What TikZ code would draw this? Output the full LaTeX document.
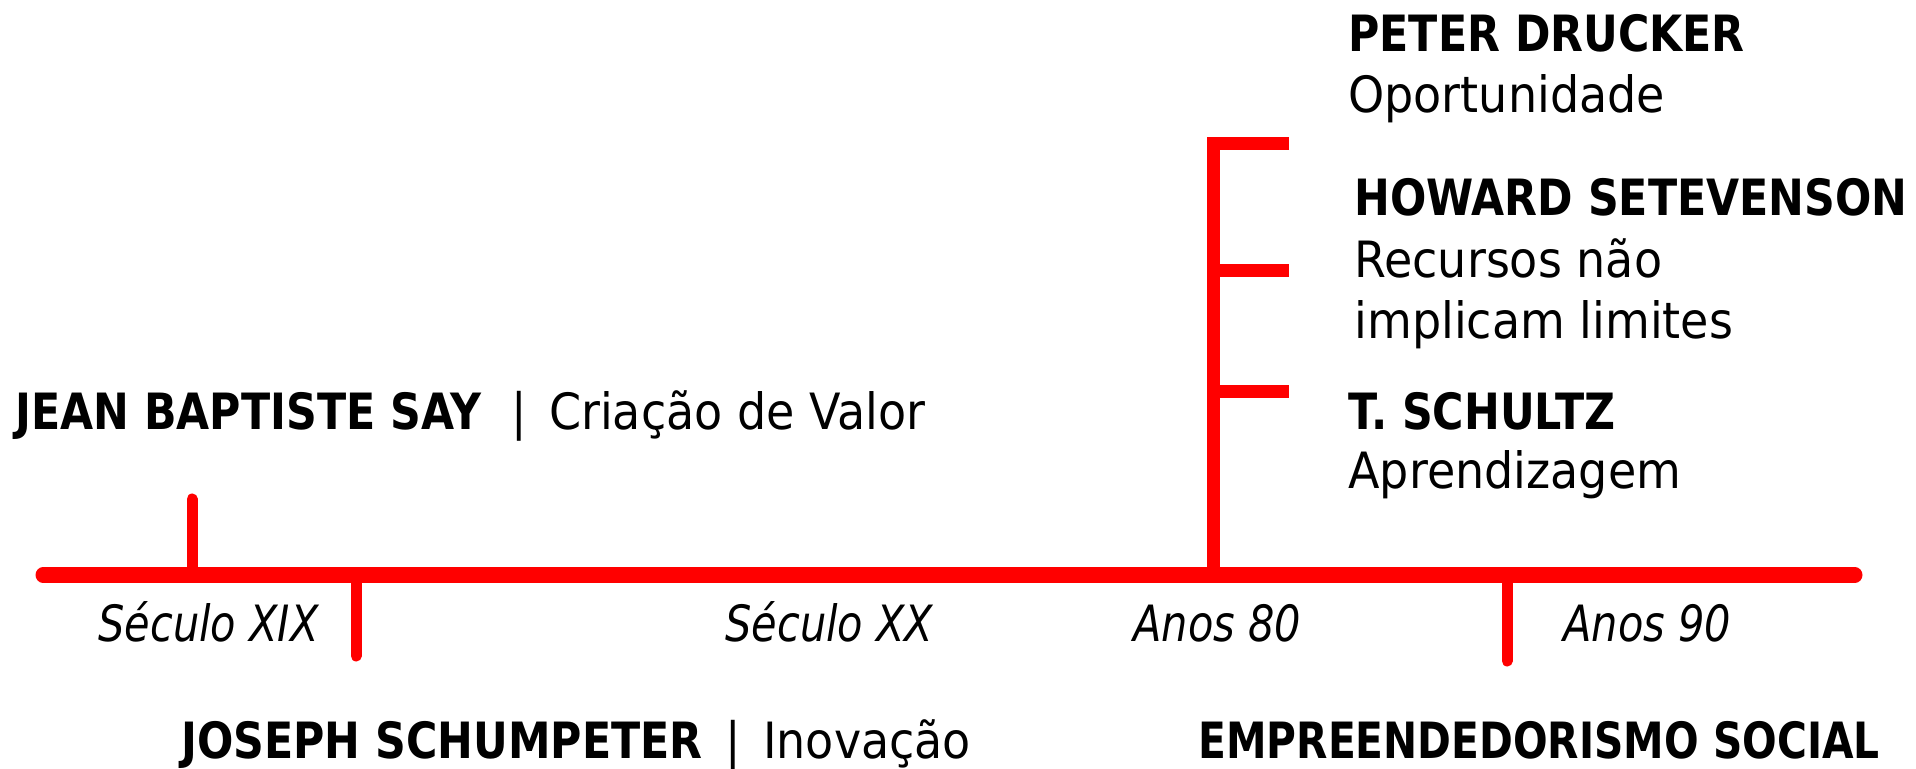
\documentclass[tikz,border=0pt]{standalone}
\usepackage{fontspec}
\setmainfont{DejaVu Sans}
\newfontfamily\namefont[FakeStretch=0.855]{DejaVu Sans Bold}
\newfontfamily\socialfont[FakeStretch=0.815]{DejaVu Sans Bold}
\newfontfamily\notefont[FakeStretch=0.92]{DejaVu Sans}
\newfontfamily\erafont[FakeStretch=0.83]{DejaVu Sans Oblique}
\usetikzlibrary{positioning}
\definecolor{lineRed}{RGB}{255,0,0}

\begin{document}
\begin{tikzpicture}[x=0.5pt,y=-0.5pt,
	Axis/.style={draw=lineRed,line width=7.5pt,line cap=round},
	Tick/.style={draw=lineRed,line width=5.5pt,line cap=round},
	Stem/.style={draw=lineRed,line width=6.5pt,line join=miter},
	Name/.style={anchor=base west,inner sep=0pt,font=\namefont\fontsize{25}{30}\selectfont},
	Note/.style={anchor=base west,inner sep=0pt,font=\notefont\fontsize{25}{30}\selectfont},
	Era/.style={anchor=base west,inner sep=0pt,font=\erafont\fontsize{25}{30}\selectfont},
]
	\useasboundingbox (0,0) rectangle (1916,769);

	% time axis
	\coordinate (axisL) at (43,575);
	\coordinate (axisR) at (1855,575);
	\draw[Axis] (axisL) -- (axisR);

	\coordinate (sayFoot) at (192,575);
	\coordinate (sayTop) at (192,499);
	\coordinate (schFoot) at (356,575);
	\coordinate (schEnd) at (356,656);
	\coordinate (socFoot) at (1507,575);
	\coordinate (socEnd) at (1507,661);
	\draw[Tick] (sayFoot) -- (sayTop);
	\draw[Tick] (schFoot) -- (schEnd);
	\draw[Tick] (socFoot) -- (socEnd);

	% anos 80 branch
	\coordinate (stemFoot) at (1213,575);
	\coordinate (stemTop) at (1213,144);
	\coordinate (armA) at (1289,144);
	\coordinate (stemB) at (1213,271);
	\coordinate (armB) at (1289,271);
	\coordinate (stemC) at (1213,392);
	\coordinate (armC) at (1289,392);
	\draw[Stem] (armA) -- (stemTop) -- (stemFoot);
	\draw[Stem] (stemB) -- (armB);
	\draw[Stem] (stemC) -- (armC);

	% eras
	\node[Era] (xix) at (98,641) {Século XIX};
	\node[Era] (xx) at (725,641) {Século XX};
	\node[Era] (a80) at (1133,641) {Anos 80};
	\node[Era] (a90) at (1563,641) {Anos 90};

	% authors
	\node[Name] (say) at (15,430) {JEAN BAPTISTE SAY\hspace*{0.6em}{\notefont |\hspace*{0.45em}Criação de Valor}};
	\node[Name] (schumpeter) at (181,758) {JOSEPH SCHUMPETER\hspace*{0.45em}{\notefont |\hspace*{0.45em}Inovação}};
	\node[Name,font=\socialfont\fontsize{25}{30}\selectfont] (social) at (1198,758) {EMPREENDEDORISMO SOCIAL};

	\node[Name] (drucker) at (1348,52) {PETER DRUCKER};
	\node[Note] (druckerIdea) [below=30.5pt of drucker.base west,anchor=base west] {Oportunidade};
	\node[Name] (stevenson) at (1354,216) {HOWARD SETEVENSON};
	\node[Note] (stevensonIdea) [below=31pt of stevenson.base west,anchor=base west] {Recursos não};
	\node[Note] (stevensonIdeaB) [below=30.5pt of stevensonIdea.base west,anchor=base west] {implicam limites};
	\node[Name] (schultz) at (1348,430) {T. SCHULTZ};
	\node[Note] (schultzIdea) [below=29.5pt of schultz.base west,anchor=base west] {Aprendizagem};
\end{tikzpicture}
\end{document}
